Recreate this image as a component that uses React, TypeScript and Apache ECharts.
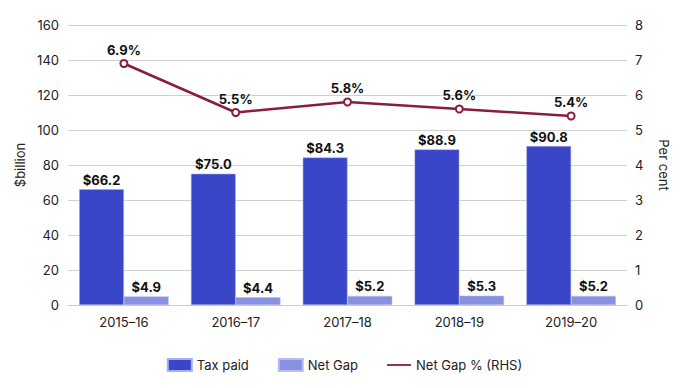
import React, { useEffect, useRef } from "react";
import * as echarts from "echarts";

const categories = ["2015–16", "2016–17", "2017–18", "2018–19", "2019–20"];
const taxPaid = [66.2, 75.0, 84.3, 88.9, 90.8];
const netGap = [4.9, 4.4, 5.2, 5.3, 5.2];
const netGapPct = [6.9, 5.5, 5.8, 5.6, 5.4];

const FONT = "Inter";

export default function App() {
  const ref = useRef<HTMLDivElement>(null);
  useEffect(() => {
    if (!ref.current) return;
    const chart = echarts.init(ref.current, null, { renderer: "svg" });
    chart.setOption({
      animation: false,
      textStyle: { fontFamily: FONT },
      grid: { left: 68, right: 62, top: 25, bottom: 83 },
      legend: {
        top: 353,
        left: "center",
        itemGap: 29,
        itemWidth: 24,
        itemHeight: 12,
        textStyle: { fontFamily: FONT, fontSize: 13, color: "#222" },
        data: [
          { name: "Tax paid", icon: "rect" },
          { name: "Net Gap", icon: "rect" },
          {
            name: "Net Gap % (RHS)",
            icon: "path://M0,0 L40,0 L40,3 L0,3 Z",
            itemStyle: { color: "#8a1c40", borderWidth: 0 },
          },
        ],
      },
      xAxis: {
        type: "category",
        data: categories,
        axisLine: { lineStyle: { color: "#cccccc" } },
        axisTick: { alignWithLabel: true, length: 5, lineStyle: { color: "#cccccc" } },
        axisLabel: { color: "#222", fontSize: 13, fontFamily: FONT, margin: 10 },
      },
      yAxis: [
        {
          type: "value",
          min: 0,
          max: 160,
          interval: 20,
          name: "$billion",
          nameLocation: "middle",
          nameGap: 36,
          nameRotate: 90,
          nameTextStyle: { color: "#222", fontSize: 13, fontFamily: FONT },
          axisLine: { show: false },
          axisTick: { show: false },
          axisLabel: { color: "#222", fontSize: 13, fontFamily: FONT, margin: 9 },
          splitLine: { lineStyle: { color: "#d0d0d0" } },
        },
        {
          type: "value",
          min: 0,
          max: 8,
          interval: 1,
          name: "Per cent",
          nameLocation: "middle",
          nameGap: 30,
          nameRotate: -90,
          nameTextStyle: { color: "#222", fontSize: 13, fontFamily: FONT },
          axisLine: { show: false },
          axisTick: { show: false },
          axisLabel: { color: "#222", fontSize: 13, fontFamily: FONT, margin: 8 },
          splitLine: { show: false },
        },
      ],
      series: [
        {
          name: "Tax paid",
          type: "bar",
          data: taxPaid,
          barGap: "0%",
          barCategoryGap: "20%",
          itemStyle: { color: "#3a46c8", borderColor: "#a8aef0", borderWidth: 0.5 },
          label: {
            show: true,
            position: "top",
            distance: 3,
            formatter: (p: any) => "$" + p.value.toFixed(1),
            fontWeight: "bold",
            fontSize: 13,
            color: "#111",
            fontFamily: FONT,
          },
        },
        {
          name: "Net Gap",
          type: "bar",
          data: netGap,
          itemStyle: { color: "#8890e0", borderColor: "#b8bdf2", borderWidth: 0.5 },
          label: {
            show: true,
            position: "top",
            distance: 3,
            formatter: (p: any) => "$" + p.value.toFixed(1),
            fontWeight: "bold",
            fontSize: 13,
            color: "#111",
            fontFamily: FONT,
          },
        },
        {
          name: "Net Gap % (RHS)",
          type: "line",
          yAxisIndex: 1,
          data: netGapPct,
          symbol: "circle",
          symbolSize: 7,
          lineStyle: { color: "#8a1c40", width: 2.5 },
          itemStyle: { color: "#ffffff", borderColor: "#8a1c40", borderWidth: 2 },
          label: {
            show: true,
            position: "top",
            distance: 3,
            formatter: (p: any) => p.value.toFixed(1) + "%",
            fontWeight: "bold",
            fontSize: 13,
            color: "#111",
            fontFamily: FONT,
          },
          z: 5,
        },
      ],
    });
    return () => chart.dispose();
  }, []);
  return (
    <div
      ref={ref}
      style={{ position: "absolute", left: 0, top: 0, width: 689, height: 388 }}
    />
  );
}
